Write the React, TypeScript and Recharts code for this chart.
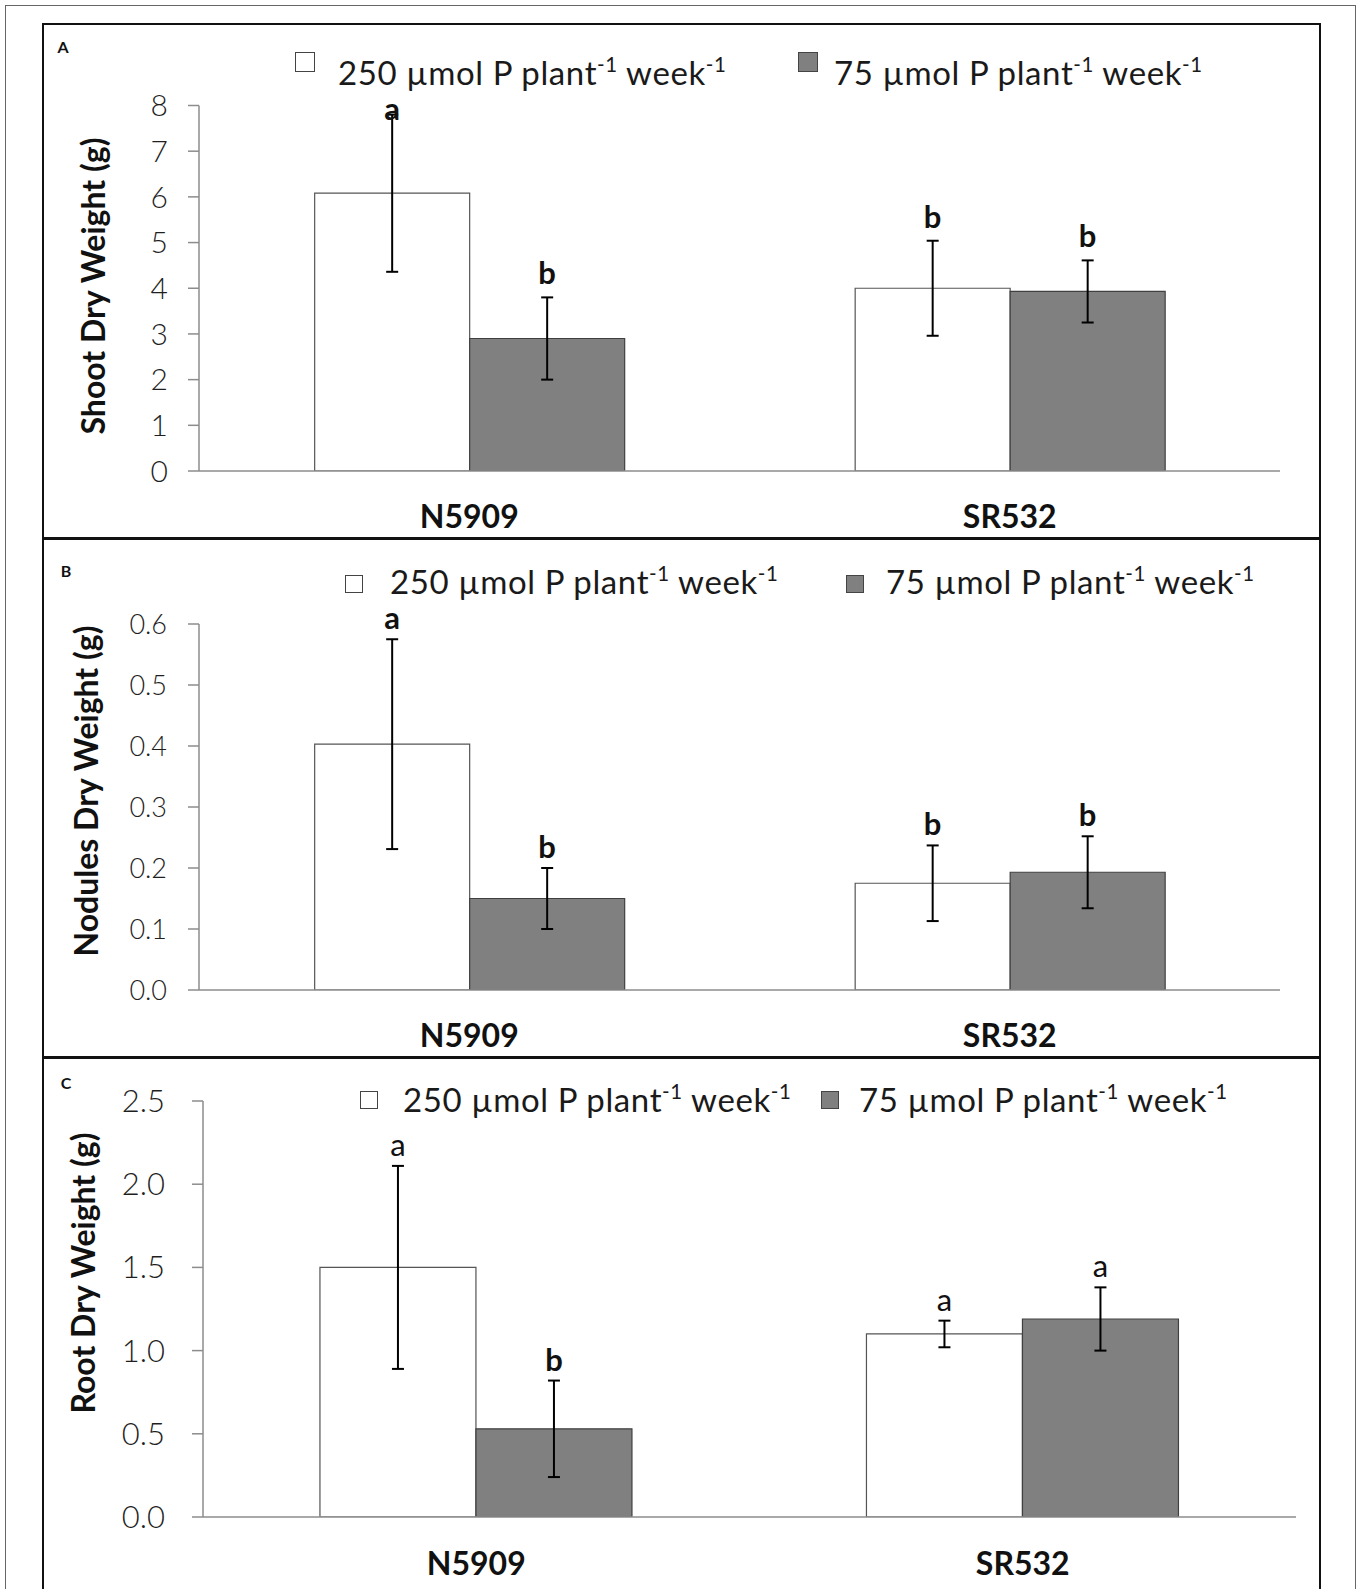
import React from 'react';
import { BarChart, Bar, XAxis, YAxis, ErrorBar, LabelList, Legend } from 'recharts';

// ---- data ----
const categories = ['N5909', 'SR532'];
const doses = ['250', '75'];

// A: shoot dry weight (g)
const shootHigh = [6.08, 4.0];
const shootHighErr = [1.72, 1.04];
const shootLow = [2.9, 3.93];
const shootLowErr = [0.9, 0.68];
const shootHighLetters = ['a', 'b'];
const shootLowLetters = ['b', 'b'];
const shootTicks = [0, 1, 2, 3, 4, 5, 6, 7, 8];

// B: nodules dry weight (g)
const noduleHigh = [0.403, 0.175];
const noduleHighErr = [0.172, 0.062];
const noduleLow = [0.15, 0.193];
const noduleLowErr = [0.05, 0.059];
const noduleHighLetters = ['a', 'b'];
const noduleLowLetters = ['b', 'b'];
const noduleTicks = [0, 0.1, 0.2, 0.3, 0.4, 0.5, 0.6];

// C: root dry weight (g)
const rootHigh = [1.5, 1.1];
const rootHighErr = [0.61, 0.08];
const rootLow = [0.53, 1.19];
const rootLowErr = [0.29, 0.19];
const rootHighLetters = ['a', 'a'];
const rootLowLetters = ['b', 'a'];
const rootTicks = [0, 0.5, 1.0, 1.5, 2.0, 2.5];

const FONT = 'Lato, "Open Sans", sans-serif';
const AXIS = '#8c8c8c';
const GRAY = '#808080';

type LegendLayout = {
  top: number;
  sq: number;
  items: { sqX: number; sqY: number; textX: number }[];
};

type PanelProps = {
  top: number;
  height: number;
  margin: { top: number; right: number; bottom: number };
  yWidth: number;
  high: number[];
  highErr: number[];
  low: number[];
  lowErr: number[];
  highLetters: string[];
  lowLetters: string[];
  ticks: number[];
  decimals: number;
  tickFont: number;
  tickMargin: number;
  labelDy: number;
  letterGap: number;
  letterFloor?: number; // keep letters inside the plot (panel A)
  boldA: boolean;
  legend: LegendLayout;
};

function letterContent(
  values: number[],
  errs: number[],
  max: number,
  boldA: boolean,
  gap: number,
  floor?: number,
) {
  // eslint-disable-next-line @typescript-eslint/no-explicit-any
  return (props: any) => {
    const vb = props.viewBox ?? {};
    const x = Number(props.x ?? vb.x);
    const y = Number(props.y ?? vb.y);
    const w = Number(props.width ?? vb.width);
    const h = Number(props.height ?? vb.height);
    const i = props.index ?? 0;
    const perUnit = h / values[i];
    const errTop = y - perUnit * errs[i];
    let base = errTop - gap;
    if (floor !== undefined) {
      const plotTop = y + h - perUnit * max;
      base = Math.max(base, plotTop + floor);
    }
    const letter = String(props.value);
    return (
      <text
        x={x + w / 2}
        y={base}
        textAnchor="middle"
        fontFamily={FONT}
        fontSize={31}
        fontWeight={letter === 'b' || boldA ? 700 : 400}
        fill="#111"
      >
        {letter}
      </text>
    );
  };
}

// eslint-disable-next-line @typescript-eslint/no-explicit-any
function CategoryTick(props: any) {
  const { x, y, payload, dy } = props;
  return (
    <text
      x={x}
      y={y + dy}
      textAnchor="middle"
      dominantBaseline="central"
      fontFamily={FONT}
      fontWeight={700}
      fontSize={32}
      fill="#111"
    >
      {payload.value}
    </text>
  );
}

const supStyle: React.CSSProperties = {
  fontSize: '0.62em',
  position: 'relative',
  top: '-0.62em',
};

function makeLegend(layout: LegendLayout) {
  // eslint-disable-next-line @typescript-eslint/no-explicit-any
  return (props: any) => {
    const items = props.payload ?? [];
    return (
      <div style={{ position: 'relative', width: 1360, height: 36 }}>
        {/* eslint-disable-next-line @typescript-eslint/no-explicit-any */}
        {items.map((it: any, i: number) => {
          const pos = layout.items[i];
          return (
            <React.Fragment key={i}>
              <span
                style={{
                  position: 'absolute',
                  left: pos.sqX,
                  top: pos.sqY,
                  width: layout.sq,
                  height: layout.sq,
                  boxSizing: 'border-box',
                  background: it.color,
                  border: '1.5px solid #444',
                }}
              />
              <span
                style={{
                  position: 'absolute',
                  left: pos.textX,
                  top: 0,
                  fontFamily: FONT,
                  fontSize: 33,
                  letterSpacing: 0.6,
                  lineHeight: '36px',
                  color: '#1a1a1a',
                  whiteSpace: 'nowrap',
                }}
              >
                {doses[i]} µmol P plant<span style={supStyle}>-1</span> week<span style={supStyle}>-1</span>
              </span>
            </React.Fragment>
          );
        })}
      </div>
    );
  };
}

function Panel(p: PanelProps) {
  const data = categories.map((name, i) => ({
    name,
    high: p.high[i],
    highErr: p.highErr[i],
    highLetter: p.highLetters[i],
    low: p.low[i],
    lowErr: p.lowErr[i],
    lowLetter: p.lowLetters[i],
  }));
  const max = p.ticks[p.ticks.length - 1];
  return (
    <div style={{ position: 'absolute', left: 0, top: p.top }}>
      <BarChart
        width={1360}
        height={p.height}
        data={data}
        margin={{ top: p.margin.top, right: p.margin.right, bottom: p.margin.bottom, left: 0 }}
        barGap={0}
        barCategoryGap="21.4%"
      >
        {/* tick marks sit between the categories, Excel style */}
        <XAxis
          xAxisId="edges"
          type="number"
          domain={[0, 2]}
          ticks={[0, 1, 2]}
          allowDataOverflow
          tick={false}
          axisLine={false}
          tickLine={{ stroke: AXIS, strokeWidth: 1.5 }}
          tickSize={11}
          height={1}
        />
        <XAxis
          dataKey="name"
          height={1}
          interval={0}
          axisLine={{ stroke: AXIS, strokeWidth: 1.5 }}
          tickLine={false}
          tickSize={0}
          tickMargin={0}
          tick={<CategoryTick dy={p.labelDy} />}
        />
        <YAxis
          width={p.yWidth}
          domain={[0, max]}
          ticks={p.ticks}
          interval={0}
          allowDataOverflow
          tickSize={11}
          tickMargin={p.tickMargin}
          axisLine={{ stroke: AXIS, strokeWidth: 1.5 }}
          tickLine={{ stroke: AXIS, strokeWidth: 1.5 }}
          tick={{ fontFamily: FONT, fontSize: p.tickFont, fontWeight: 300, fill: '#1f1f1f' }}
          tickFormatter={(v: number) => v.toFixed(p.decimals)}
        />
        <Legend
          layout="horizontal"
          verticalAlign="middle"
          align="center"
          wrapperStyle={{ top: p.legend.top, left: 0, width: 1360 }}
          content={makeLegend(p.legend)}
        />
        <Bar
          dataKey="high"
          name={`${doses[0]} µmol P plant-1 week-1`}
          fill="#ffffff"
          stroke="#555555"
          strokeWidth={1.2}
          isAnimationActive={false}
        >
          <ErrorBar dataKey="highErr" width={6} stroke="#000" strokeWidth={2} direction="y" />
          <LabelList
            dataKey="highLetter"
            content={letterContent(p.high, p.highErr, max, p.boldA, p.letterGap, p.letterFloor)}
          />
        </Bar>
        <Bar
          dataKey="low"
          name={`${doses[1]} µmol P plant-1 week-1`}
          fill={GRAY}
          stroke="#404040"
          strokeWidth={1.2}
          isAnimationActive={false}
        >
          <ErrorBar dataKey="lowErr" width={6} stroke="#000" strokeWidth={2} direction="y" />
          <LabelList
            dataKey="lowLetter"
            content={letterContent(p.low, p.lowErr, max, p.boldA, p.letterGap, p.letterFloor)}
          />
        </Bar>
      </BarChart>
    </div>
  );
}

function YTitle({ text, x, y }: { text: string; x: number; y: number }) {
  return (
    <div
      style={{
        position: 'absolute',
        left: x,
        top: y,
        transform: 'translate(-50%, -50%) rotate(-90deg)',
        fontFamily: FONT,
        fontWeight: 700,
        fontSize: 32,
        color: '#111',
        whiteSpace: 'nowrap',
        lineHeight: 1,
      }}
    >
      {text}
    </div>
  );
}

function PanelTag({ text, x, y }: { text: string; x: number; y: number }) {
  return (
    <div
      style={{
        position: 'absolute',
        left: x,
        top: y,
        transform: 'translate(-50%, -50%)',
        fontFamily: FONT,
        fontWeight: 700,
        fontSize: 16,
        color: '#111',
        lineHeight: 1,
      }}
    >
      {text}
    </div>
  );
}

export default function App() {
  return (
    <div
      style={{
        position: 'absolute',
        left: 0,
        top: 0,
        width: 1360,
        height: 1589,
        overflow: 'hidden',
        background: '#fff',
      }}
    >
      {/* outer frame and panel frames */}
      <div style={{ position: 'absolute', left: 5, top: 5, width: 1351, height: 1640, border: '1.5px solid #666', boxSizing: 'border-box' }} />
      <div style={{ position: 'absolute', left: 42, top: 23, width: 1279, height: 517, border: '2px solid #111', boxSizing: 'border-box' }} />
      <div style={{ position: 'absolute', left: 42, top: 537, width: 1279, height: 522, border: '2px solid #111', boxSizing: 'border-box' }} />
      <div style={{ position: 'absolute', left: 42, top: 1056, width: 1279, height: 600, border: '2px solid #111', boxSizing: 'border-box' }} />

      <Panel
        top={0}
        height={538}
        margin={{ top: 105.5, right: 80, bottom: 65 }}
        yWidth={199}
        high={shootHigh}
        highErr={shootHighErr}
        low={shootLow}
        lowErr={shootLowErr}
        highLetters={shootHighLetters}
        lowLetters={shootLowLetters}
        ticks={shootTicks}
        decimals={0}
        tickFont={30}
        tickMargin={20}
        labelDy={44}
        letterGap={13}
        letterFloor={14}
        boldA
        legend={{
          top: 54,
          sq: 20,
          items: [
            { sqX: 295, sqY: -2, textX: 338 },
            { sqX: 798, sqY: -2, textX: 834 },
          ],
        }}
      />
      <Panel
        top={538}
        height={519}
        margin={{ top: 86, right: 80, bottom: 65 }}
        yWidth={199}
        high={noduleHigh}
        highErr={noduleHighErr}
        low={noduleLow}
        lowErr={noduleLowErr}
        highLetters={noduleHighLetters}
        lowLetters={noduleLowLetters}
        ticks={noduleTicks}
        decimals={1}
        tickFont={27}
        tickMargin={21}
        labelDy={44}
        letterGap={10}
        boldA
        legend={{
          top: 25,
          sq: 18,
          items: [
            { sqX: 345, sqY: 12, textX: 390 },
            { sqX: 846, sqY: 12, textX: 886 },
          ],
        }}
      />
      <Panel
        top={1057}
        height={532}
        margin={{ top: 44, right: 64, bottom: 70 }}
        yWidth={203}
        high={rootHigh}
        highErr={rootHighErr}
        low={rootLow}
        lowErr={rootLowErr}
        highLetters={rootHighLetters}
        lowLetters={rootLowLetters}
        ticks={rootTicks}
        decimals={1}
        tickFont={31}
        tickMargin={27}
        labelDy={45}
        letterGap={10}
        boldA={false}
        legend={{
          top: 24,
          sq: 18,
          items: [
            { sqX: 360, sqY: 10, textX: 403 },
            { sqX: 821, sqY: 10, textX: 859 },
          ],
        }}
      />

      <YTitle text="Shoot Dry Weight (g)" x={93} y={286} />
      <YTitle text="Nodules Dry Weight (g)" x={86} y={791} />
      <YTitle text="Root Dry Weight (g)" x={83} y={1273} />

      <PanelTag text="A" x={63} y={47} />
      <PanelTag text="B" x={66} y={571} />
      <PanelTag text="C" x={66} y={1083} />
    </div>
  );
}
